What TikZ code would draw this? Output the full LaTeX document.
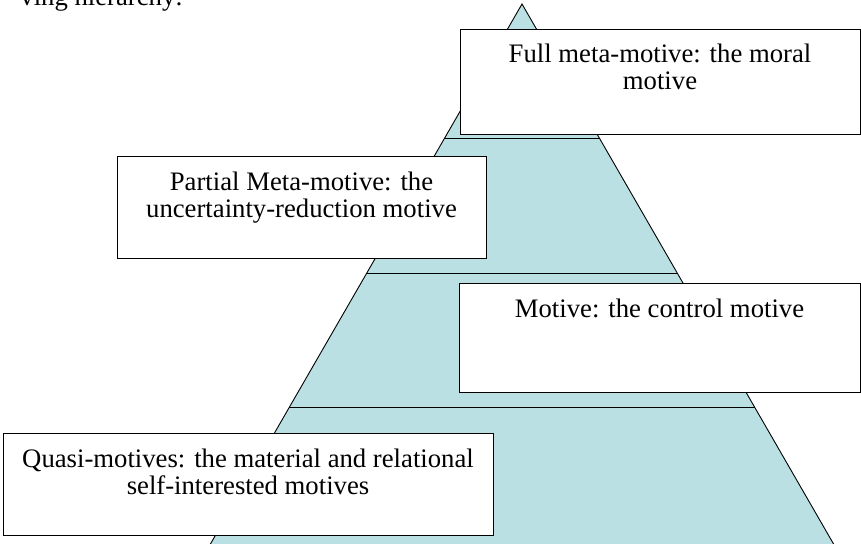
\documentclass[tikz,border=0pt]{standalone}
\usepackage{fontspec}
\setmainfont{Liberation Serif}
\definecolor{pyr}{RGB}{187,224,227}
\begin{document}
\begin{tikzpicture}[x=1pt,y=-1pt,
  box/.style={draw=black,fill=white,line width=1.4pt,inner sep=0pt,anchor=north west},
  lbl/.style={font=\fontsize{26.7}{26.7}\selectfont,anchor=base,inner sep=0pt},
  tri/.style={draw=black,line width=0.9pt}]
\useasboundingbox (0,0) rectangle (861,543);
\clip (0,0) rectangle (861,543);
% heading fragment
\node[lbl,anchor=base east] (head) at (183,6) {ving hierarchy:};
% pyramid
\filldraw[tri,fill=pyr] (522,4) -- (842.8,560) -- (201.2,560) -- cycle;
\draw[tri] (444.4,138.5) -- (599.6,138.5);
\draw[tri] (366.8,273) -- (677.2,273);
\draw[tri] (289.2,407.5) -- (754.8,407.5);
% boxes
\node[box,minimum width=400pt,minimum height=105pt] (full) at (460,29) {};
\node[box,minimum width=369pt,minimum height=102pt] (partial) at (117,156) {};
\node[box,minimum width=401pt,minimum height=109pt] (motive) at (459,283) {};
\node[box,minimum width=490pt,minimum height=102pt] (quasi) at (3,433) {};
% texts
\node[lbl] (full1) at (660,63) {Full meta-motive: the moral};
\node[lbl] (full2) at (660,89.7) {motive};
\node[lbl] (part1) at (301.5,190.7) {Partial Meta-motive: the};
\node[lbl] (part2) at (301.5,217.4) {uncertainty-reduction motive};
\node[lbl] (mot1) at (659.5,317) {Motive: the control motive};
\node[lbl] (quasi1) at (248,467.5) {Quasi-motives: the material and relational};
\node[lbl] (quasi2) at (248,494.2) {self-interested motives};
\end{tikzpicture}
\end{document}
